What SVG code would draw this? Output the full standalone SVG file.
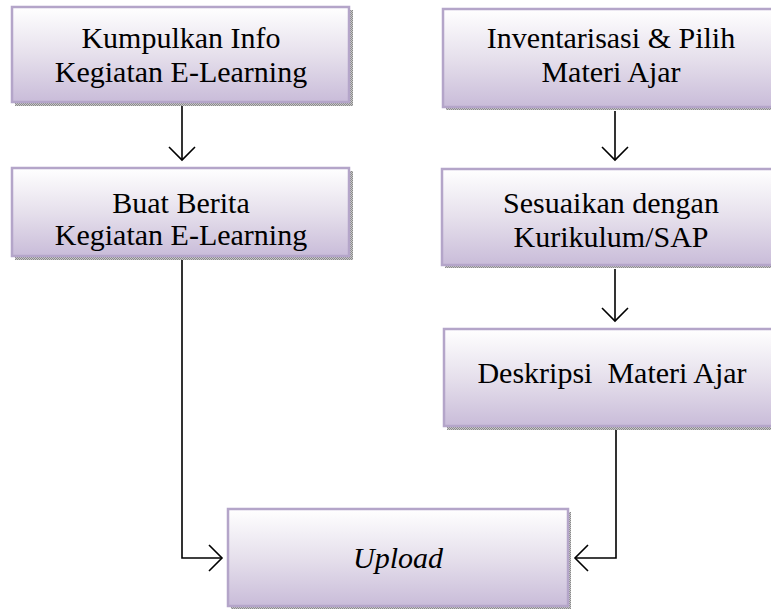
<svg xmlns="http://www.w3.org/2000/svg" width="771" height="609" viewBox="0 0 771 609">
<style>
  .box { fill: url(#grad); stroke: #b4a5c9; stroke-width: 2.5; }
  .shadow { fill: url(#dots); }
  .t { font-family: "Liberation Serif", "Times New Roman", serif; font-size: 30px; fill: #000; text-anchor: middle; white-space: pre; }
  .conn { fill: none; stroke: #000; stroke-width: 1.6; marker-end: url(#arr); }
</style>
<defs>
  <linearGradient id="grad" x1="0" y1="0" x2="0" y2="1">
    <stop offset="0" stop-color="#ffffff"/>
    <stop offset="0.5" stop-color="#e6e0ec"/>
    <stop offset="1" stop-color="#c9bcd9"/>
  </linearGradient>
  <pattern id="dots" width="2" height="2" patternUnits="userSpaceOnUse">
    <rect width="2" height="2" fill="#c8c8c8"/>
    <rect width="1" height="1" fill="#8a8a8a"/>
    <rect x="1" y="1" width="1" height="1" fill="#8a8a8a"/>
  </pattern>
  <marker id="arr" viewBox="-15 -15 17 30" markerWidth="17" markerHeight="30" refX="0" refY="0" orient="auto" markerUnits="userSpaceOnUse">
    <path d="M-13,-13 L0,0 L-13,13" fill="none" stroke="#000" stroke-width="1.6"/>
  </marker>
</defs>
<rect width="771" height="609" fill="#fff"/>

<g id="connectors">
  <path class="conn" d="M182,106 V160"/>
  <path class="conn" d="M615,111 V160"/>
  <path class="conn" d="M615,269 V321"/>
  <path class="conn" d="M182,260 V558 H222"/>
  <path class="conn" d="M616,430 V558 H575"/>
</g>

<g id="kumpulkan">
  <rect class="shadow" x="15" y="10" width="338" height="96"/>
  <rect class="box" x="12" y="7" width="337" height="95"/>
  <text class="t" x="181" y="48">Kumpulkan Info</text>
  <text class="t" x="181" y="82">Kegiatan E-Learning</text>
</g>

<g id="buat-berita">
  <rect class="shadow" x="15" y="171" width="338" height="89"/>
  <rect class="box" x="12" y="168" width="337" height="88"/>
  <text class="t" x="181" y="213">Buat Berita</text>
  <text class="t" x="181" y="245">Kegiatan E-Learning</text>
</g>

<g id="inventarisasi">
  <rect class="shadow" x="446" y="12" width="336" height="98"/>
  <rect class="box" x="443" y="9" width="336" height="98"/>
  <text class="t" x="611" y="48">Inventarisasi &amp; Pilih</text>
  <text class="t" x="611" y="82">Materi Ajar</text>
</g>

<g id="sesuaikan">
  <rect class="shadow" x="445" y="172" width="337" height="96"/>
  <rect class="box" x="442" y="169" width="337" height="96"/>
  <text class="t" x="611" y="213">Sesuaikan dengan</text>
  <text class="t" x="611" y="247">Kurikulum/SAP</text>
</g>

<g id="deskripsi">
  <rect class="shadow" x="447" y="332" width="335" height="98"/>
  <rect class="box" x="444" y="329" width="335" height="97"/>
  <text class="t" x="612" y="383">Deskripsi  Materi Ajar</text>
</g>

<g id="upload">
  <rect class="shadow" x="231" y="512" width="340" height="97"/>
  <rect class="box" x="228" y="509" width="340" height="97"/>
  <text class="t" x="398" y="568" font-style="italic">Upload</text>
</g>
</svg>
